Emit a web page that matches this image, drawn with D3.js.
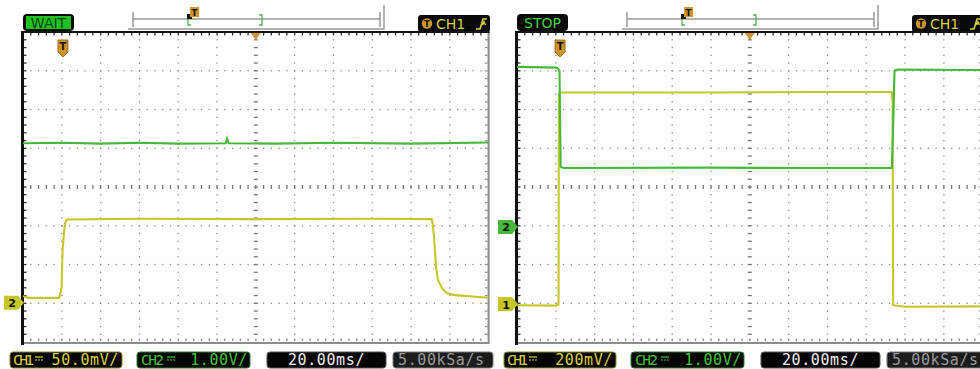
<!DOCTYPE html>
<html>
<head>
<meta charset="utf-8">
<script src="https://cdn.jsdelivr.net/npm/d3@7"></script>
<style>
  body { margin: 0; background: #fff; }
  svg { display: block; }
</style>
</head>
<body>
<svg></svg>
<script>
// two scope screens side by side, 20 ms/div, 12 x 8 divisions
const statusLabels = ["WAIT", "STOP"]
const ch1Scale = ["50.0mV/", "200mV/"]
const ch2Scale = ["1.00V/", "1.00V/"]
const timeBase = ["20.00ms/", "20.00ms/"]
const sampleRate = ["5.00kSa/s", "5.00kSa/s"]
const trigSource = ["CH1", "CH1"]
const trigTime = [20.6, 22.2] // ms from left edge of screen

// traces: [ms from left edge, level in divisions from centre]
const waitCh1 = [
  [0, -2.82], [3, -2.86], [18.7, -2.86], [19.9, -2.6], [20.4, -1.6],
  [21.6, -0.95], [22.5, -0.84], [60, -0.82], [120, -0.83], [180, -0.82],
  [210.7, -0.83], [211.3, -1.0], [211.8, -1.24], [212.9, -2.06],
  [213.9, -2.4], [216, -2.61], [218.6, -2.74], [222.7, -2.79],
  [235, -2.84], [240, -2.86],
]
const waitCh2 = [
  [0, 1.13], [20, 1.14], [40, 1.12], [60, 1.14], [80, 1.12],
  [104.5, 1.13], [105.2, 1.25], [106, 1.13], [130, 1.12], [160, 1.14],
  [200, 1.12], [240, 1.15],
]
const stopCh1 = [
  [0, -3.05], [20, -3.06], [21.4, -3.04], [21.6, 2.4], [22.6, 2.44],
  [100, 2.44], [150, 2.45], [193.2, 2.45], [193.6, 2.2], [193.9, -3.05],
  [200, -3.09], [240, -3.08],
]
const stopCh2 = [
  [0, 3.1], [20.5, 3.08], [21.9, 3.0], [22.5, 0.52], [24, 0.49],
  [100, 0.5], [150, 0.49], [193.2, 0.49], [193.8, 1.4], [194.6, 3.0],
  [196, 3.03], [240, 3.02],
]
// channel ground markers on the left edge
const waitRefs = [{ label: "2", trace: "ch1", level: -2.99 }]
const stopRefs = [
  { label: "2", trace: "ch2", level: -1.03 },
  { label: "1", trace: "ch1", level: -3.02 },
]

const svg = d3.select("svg")
const w = 980
const h = 369
const divPx = 38.8
const panelW = divPx * 12
const panelH = 310
const panelTop = 32
const panelLefts = [23, 517]

const yellow = "#c6c62a"
const green = "#46b83a"
const orange = "#cf9428"
const traceColor = { ch1: yellow, ch2: green }
const mono = "'DejaVu Sans Mono', monospace"
const sans = "'DejaVu Sans', sans-serif"

const xScale = d3.scaleLinear().domain([0, 240]).range([0, panelW])
const yScale = d3.scaleLinear().domain([-4, 4]).range([panelH, 0])

svg.attr("width", w).attr("height", h).style("background-color", "#fff")

svg
  .append("defs")
  .append("clipPath")
  .attr("id", "screen")
  .append("rect")
  .attr("width", panelW)
  .attr("height", panelH)

const drawGrid = (g) => {
  const minorT = d3.range(4, 240, 4)
  const minorV = d3.range(-3.8, 4, 0.2)
  const gridT = d3.range(20, 240, 20).filter((t) => t !== 120)
  const gridV = d3.range(-3, 4, 1).filter((v) => v !== 0)

  const dots = []
  gridT.forEach((t) => minorV.forEach((v) => dots.push([t, v])))
  gridV.forEach((v) => minorT.forEach((t) => dots.push([t, v])))
  g.append("g")
    .selectAll("rect")
    .data(dots)
    .join("rect")
    .attr("x", (d) => xScale(d[0]) - 0.6)
    .attr("y", (d) => yScale(d[1]) - 0.6)
    .attr("width", 1.3)
    .attr("height", 1.3)
    .attr("fill", "#8a8a8a")

  // centre cross with short dashes
  g.append("g")
    .selectAll("rect")
    .data(minorV)
    .join("rect")
    .attr("x", xScale(120) - 2)
    .attr("y", (d) => yScale(d) - 0.6)
    .attr("width", 4)
    .attr("height", 1.3)
    .attr("fill", "#777")
  g.append("g")
    .selectAll("rect")
    .data(minorT)
    .join("rect")
    .attr("x", (d) => xScale(d) - 0.6)
    .attr("y", yScale(0) - 2)
    .attr("width", 1.3)
    .attr("height", 4)
    .attr("fill", "#777")

  // edge ticks
  g.append("g")
    .selectAll("rect")
    .data(minorT)
    .join("rect")
    .attr("x", (d) => xScale(d) - 0.6)
    .attr("y", 1)
    .attr("width", 1.3)
    .attr("height", 2.5)
    .attr("fill", "#333")
  g.append("g")
    .selectAll("rect")
    .data(minorT)
    .join("rect")
    .attr("x", (d) => xScale(d) - 0.6)
    .attr("y", panelH - 3.5)
    .attr("width", 1.3)
    .attr("height", 2.5)
    .attr("fill", "#888")
  g.append("g")
    .selectAll("rect")
    .data(minorV)
    .join("rect")
    .attr("x", 1)
    .attr("y", (d) => yScale(d) - 0.6)
    .attr("width", 2.5)
    .attr("height", 1.3)
    .attr("fill", "#333")
  g.append("g")
    .selectAll("rect")
    .data(minorV)
    .join("rect")
    .attr("x", panelW - 3.5)
    .attr("y", (d) => yScale(d) - 0.6)
    .attr("width", 2.5)
    .attr("height", 1.3)
    .attr("fill", "#888")

  // frame
  g.append("line")
    .attr("x1", panelW).attr("x2", panelW)
    .attr("y1", 0).attr("y2", panelH + 1)
    .attr("stroke", "#8c8c8c").attr("stroke-width", 2)
  g.append("line")
    .attr("x1", 0).attr("x2", panelW + 1)
    .attr("y1", panelH + 1).attr("y2", panelH + 1)
    .attr("stroke", "#8c8c8c").attr("stroke-width", 2)
  g.append("line")
    .attr("x1", -1).attr("x2", panelW + 1)
    .attr("y1", 0).attr("y2", 0)
    .attr("stroke", "#111").attr("stroke-width", 2.2)
  g.append("line")
    .attr("x1", -0.5).attr("x2", -0.5)
    .attr("y1", -1).attr("y2", panelH + 3)
    .attr("stroke", "#111").attr("stroke-width", 3)
}

const line = d3
  .line()
  .x((d) => xScale(d[0]))
  .y((d) => yScale(d[1]))

const drawTraces = (g, ch1, ch2) => {
  const tg = g.append("g").attr("clip-path", "url(#screen)")
  tg.append("path")
    .datum(ch1)
    .attr("d", line)
    .attr("fill", "none")
    .attr("stroke", yellow)
    .attr("stroke-width", 2.1)
  tg.append("path")
    .datum(ch2)
    .attr("d", line)
    .attr("fill", "none")
    .attr("stroke", green)
    .attr("stroke-width", 2.1)
}

const drawMarkers = (g, refs, trig) => {
  // trigger position shield
  const tx = xScale(trig)
  g.append("path")
    .attr("d", `M${tx - 5},8 H${tx + 5} V20 L${tx},25 L${tx - 5},20 Z`)
    .attr("fill", orange)
    .attr("stroke", "#8a5a10")
    .attr("stroke-width", 0.8)
  g.append("text")
    .attr("x", tx)
    .attr("y", 18)
    .attr("text-anchor", "middle")
    .attr("font-family", sans)
    .attr("font-weight", "bold")
    .attr("font-size", 10)
    .attr("fill", "#111")
    .text("T")

  // centre time marker
  const cx = xScale(120)
  g.append("path")
    .attr("d", `M${cx - 5},1 H${cx + 5} L${cx},8 Z`)
    .attr("fill", orange)

  // ground markers
  refs.forEach((r) => {
    const y = yScale(r.level)
    g.append("path")
      .attr("d", `M-19,${y - 7} H-5 L1,${y} L-5,${y + 7} H-19 Z`)
      .attr("fill", traceColor[r.trace])
    g.append("text")
      .attr("x", -11)
      .attr("y", y + 4.5)
      .attr("text-anchor", "middle")
      .attr("font-family", sans)
      .attr("font-weight", "bold")
      .attr("font-size", 11)
      .attr("fill", "#111")
      .text(r.label)
  })
}

const drawHeader = (x0, i) => {
  const g = svg.append("g").attr("transform", `translate(${x0},0)`)

  // run status
  g.append("rect")
    .attr("x", 0).attr("y", 14)
    .attr("width", 51).attr("height", 17)
    .attr("rx", 4)
    .attr("fill", "#0a0a0a")
  if (statusLabels[i] === "WAIT") {
    g.append("rect")
      .attr("x", 3).attr("y", 16)
      .attr("width", 45).attr("height", 13)
      .attr("fill", "#22c022")
    g.append("text")
      .attr("x", 25.5).attr("y", 28)
      .attr("text-anchor", "middle")
      .attr("font-family", sans)
      .attr("font-size", 14)
      .attr("fill", "#0b4a0b")
      .text(statusLabels[i])
  } else {
    g.append("text")
      .attr("x", 25.5).attr("y", 28)
      .attr("text-anchor", "middle")
      .attr("font-family", sans)
      .attr("font-size", 14)
      .attr("fill", "#3ed23e")
      .text(statusLabels[i])
  }

  // memory position bar
  const bar = g.append("g").attr("stroke", "#999").attr("fill", "none")
  bar.append("path").attr("d", "M105,29 H361 V5").attr("stroke-width", 1.5)
  bar.append("path").attr("d", "M110,19 H357").attr("stroke-width", 1.5)
  bar.append("path").attr("d", "M110,12 V27 M357,12 V27").attr("stroke-width", 1.5)
  g.append("path")
    .attr("d", "M168,15 H165 V25 H168 M236,15 H239 V25 H236")
    .attr("stroke", "#55b050")
    .attr("stroke-width", 1.3)
    .attr("fill", "none")
  g.append("rect")
    .attr("x", 164).attr("y", 14)
    .attr("width", 5).attr("height", 5)
    .attr("fill", "#111")
  g.append("rect")
    .attr("x", 167).attr("y", 7)
    .attr("width", 9).attr("height", 10)
    .attr("fill", orange)
  g.append("text")
    .attr("x", 171.5).attr("y", 15.5)
    .attr("text-anchor", "middle")
    .attr("font-family", sans)
    .attr("font-weight", "bold")
    .attr("font-size", 8.5)
    .attr("fill", "#111")
    .text("T")

  // trigger source
  g.append("rect")
    .attr("x", 395).attr("y", 15)
    .attr("width", 72).attr("height", 17)
    .attr("rx", 3)
    .attr("fill", "#0a0a0a")
  g.append("circle")
    .attr("cx", 404).attr("cy", 23.5)
    .attr("r", 5.2)
    .attr("fill", orange)
  g.append("text")
    .attr("x", 404).attr("y", 27)
    .attr("text-anchor", "middle")
    .attr("font-family", sans)
    .attr("font-weight", "bold")
    .attr("font-size", 8.5)
    .attr("fill", "#111")
    .text("T")
  g.append("text")
    .attr("x", 413).attr("y", 28.5)
    .attr("font-family", sans)
    .attr("font-size", 14)
    .attr("fill", "#d6d040")
    .text(trigSource[i])
  g.append("path")
    .attr("d", "M453,29 H457 L460,19 H464 M459.5,25 L461,22 L462.5,25")
    .attr("stroke", "#d6d040")
    .attr("stroke-width", 1.6)
    .attr("fill", "none")
}

const dcSymbol = (g, x, color) => {
  g.append("line")
    .attr("x1", x).attr("x2", x + 8)
    .attr("y1", 357).attr("y2", 357)
    .attr("stroke", color).attr("stroke-width", 1.2)
  g.append("line")
    .attr("x1", x).attr("x2", x + 8)
    .attr("y1", 360).attr("y2", 360)
    .attr("stroke", color).attr("stroke-width", 1.2)
    .attr("stroke-dasharray", "2,1")
}

const drawFooter = (x0, i) => {
  const g = svg.append("g").attr("transform", `translate(${x0},0)`)
  const boxes = [
    { x: -13, w: 112, stroke: "#8a8a28" },
    { x: 114, w: 113, stroke: "#2f7a2a" },
    { x: 244, w: 119, stroke: "#555" },
    { x: 370, w: 100, stroke: "#777" },
  ]
  boxes.forEach((b, j) => {
    g.append("rect")
      .attr("x", b.x).attr("y", 352)
      .attr("width", b.w).attr("height", 16)
      .attr("rx", 3)
      .attr("fill", j === 3 ? "#1c1c1c" : "#050505")
      .attr("stroke", b.stroke)
      .attr("stroke-width", 1)
  })

  const txt = (x, s, color, anchor, size) =>
    g.append("text")
      .attr("x", x).attr("y", 365)
      .attr("text-anchor", anchor || "start")
      .attr("font-family", mono)
      .attr("font-size", size || 15)
      .attr("letter-spacing", size ? 0 : 0.6)
      .attr("fill", color)
      .text(s)

  txt(-10, "CH1", "#d6d040", "start", 14.5).attr("textLength", 21)
  dcSymbol(g, 12, "#d6d040")
  txt(96, ch1Scale[i], "#d6d040", "end")

  txt(118, "CH2", "#44c03a", "start", 14.5).attr("textLength", 23)
  dcSymbol(g, 144, "#44c03a")
  txt(225, ch2Scale[i], "#44c03a", "end")

  txt(303.5, timeBase[i], "#eee", "middle")
  txt(375, sampleRate[i], "#9a9a9a")
}

const data = [
  { ch1: waitCh1, ch2: waitCh2, refs: waitRefs },
  { ch1: stopCh1, ch2: stopCh2, refs: stopRefs },
]

data.forEach((d, i) => {
  const x0 = panelLefts[i]
  drawHeader(x0, i)
  const g = svg.append("g").attr("transform", `translate(${x0},${panelTop})`)
  drawGrid(g)
  drawTraces(g, d.ch1, d.ch2)
  drawMarkers(g, d.refs, trigTime[i])
  drawFooter(x0, i)
})
</script>
</body>
</html>
